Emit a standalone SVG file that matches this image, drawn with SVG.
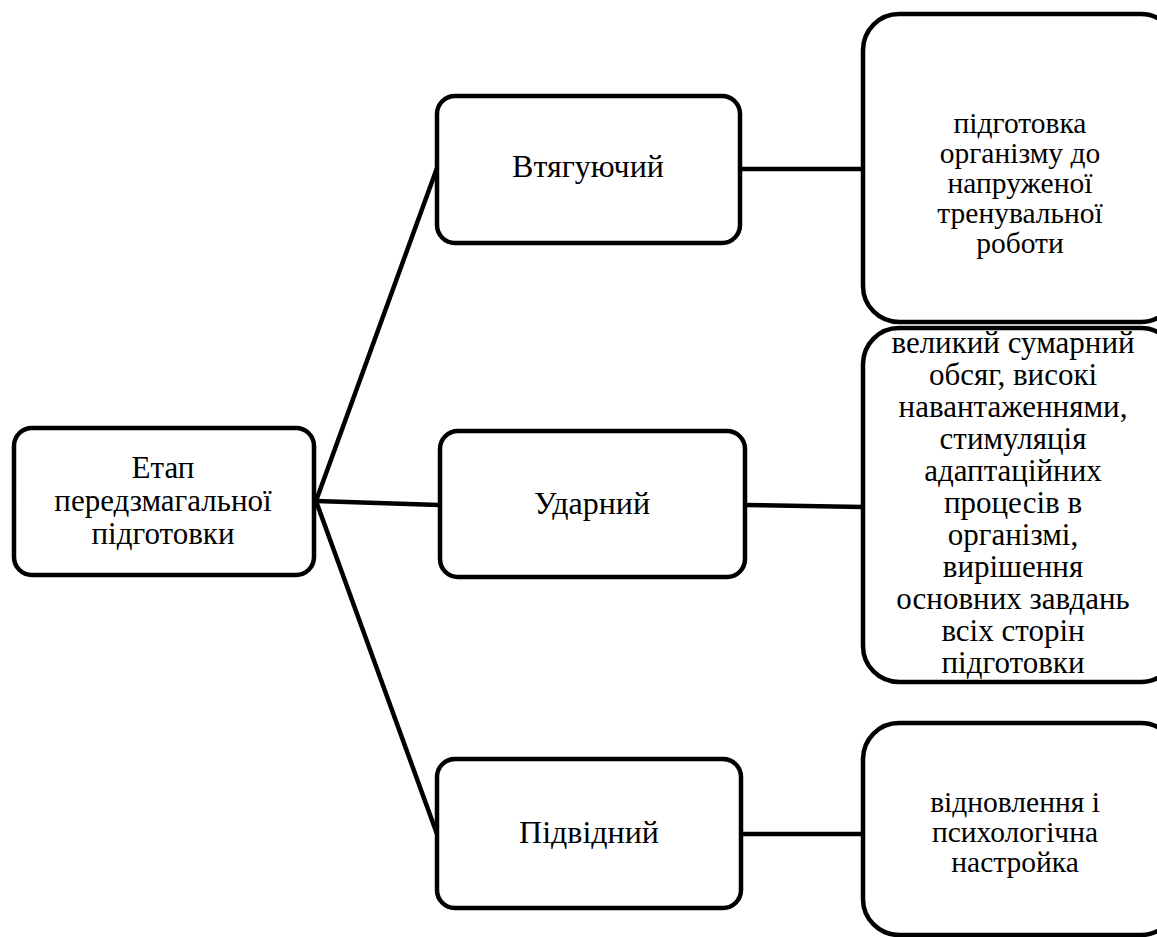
<svg xmlns="http://www.w3.org/2000/svg" width="1157" height="937" viewBox="0 0 1157 937">
<style>
.box{fill:#fff;stroke:#000;stroke-width:4.5}
.con{fill:none;stroke:#000;stroke-width:4.5}
.t{font-family:'Liberation Serif','Times New Roman','DejaVu Serif',serif;fill:#000;text-anchor:middle}
.s32{font-size:32px}
.s31{font-size:31px}
.s30{font-size:29.5px}
</style>
<rect width="1157" height="937" fill="#fff"/>
<g id="connectors">
<line class="con" x1="316" y1="501" x2="437" y2="168"/>
<line class="con" x1="316" y1="501" x2="439" y2="505"/>
<line class="con" x1="316" y1="501" x2="437" y2="834"/>
<line class="con" x1="740" y1="169" x2="863" y2="169"/>
<line class="con" x1="745" y1="505" x2="863" y2="507"/>
<line class="con" x1="741" y1="834" x2="863" y2="834"/>
</g>
<g id="n-etap">
<rect class="box" x="14" y="428" width="300" height="147" rx="18"/>
<text class="t s31" x="163" y="478">Етап</text>
<text class="t s31" x="163" y="511">передзмагальної</text>
<text class="t s31" x="163" y="544">підготовки</text>
</g>
<g id="n-vtyaguyuchyi">
<rect class="box" x="437" y="96" width="303" height="147" rx="18"/>
<text class="t s32" x="588" y="177">Втягуючий</text>
</g>
<g id="n-udarnyi">
<rect class="box" x="440" y="431" width="305" height="146" rx="18"/>
<text class="t s32" x="592" y="514">Ударний</text>
</g>
<g id="n-pidvidnyi">
<rect class="box" x="437" y="759" width="304" height="149" rx="18"/>
<text class="t s32" x="589" y="843">Підвідний</text>
</g>
<g id="n-desc1">
<rect class="box" x="863" y="14" width="314" height="308" rx="36"/>
<text class="t s30" x="1020" y="133">підготовка</text>
<text class="t s30" x="1020" y="163">організму до</text>
<text class="t s30" x="1020" y="193">напруженої</text>
<text class="t s30" x="1020" y="223">тренувальної</text>
<text class="t s30" x="1020" y="253">роботи</text>
</g>
<g id="n-desc2">
<rect class="box" x="863" y="328" width="314" height="354" rx="36"/>
<text class="t s31" x="1013" y="353">великий сумарний</text>
<text class="t s31" x="1013" y="385">обсяг, високі</text>
<text class="t s31" x="1013" y="417">навантаженнями,</text>
<text class="t s31" x="1013" y="449">стимуляція</text>
<text class="t s31" x="1013" y="481">адаптаційних</text>
<text class="t s31" x="1013" y="513">процесів в</text>
<text class="t s31" x="1013" y="545">організмі,</text>
<text class="t s31" x="1013" y="577">вирішення</text>
<text class="t s31" x="1013" y="609">основних завдань</text>
<text class="t s31" x="1013" y="641">всіх сторін</text>
<text class="t s31" x="1013" y="673">підготовки</text>
</g>
<g id="n-desc3">
<rect class="box" x="863" y="723" width="314" height="212" rx="36"/>
<text class="t s30" x="1015" y="812">відновлення і</text>
<text class="t s30" x="1015" y="842">психологічна</text>
<text class="t s30" x="1015" y="872">настройка</text>
</g>
</svg>
